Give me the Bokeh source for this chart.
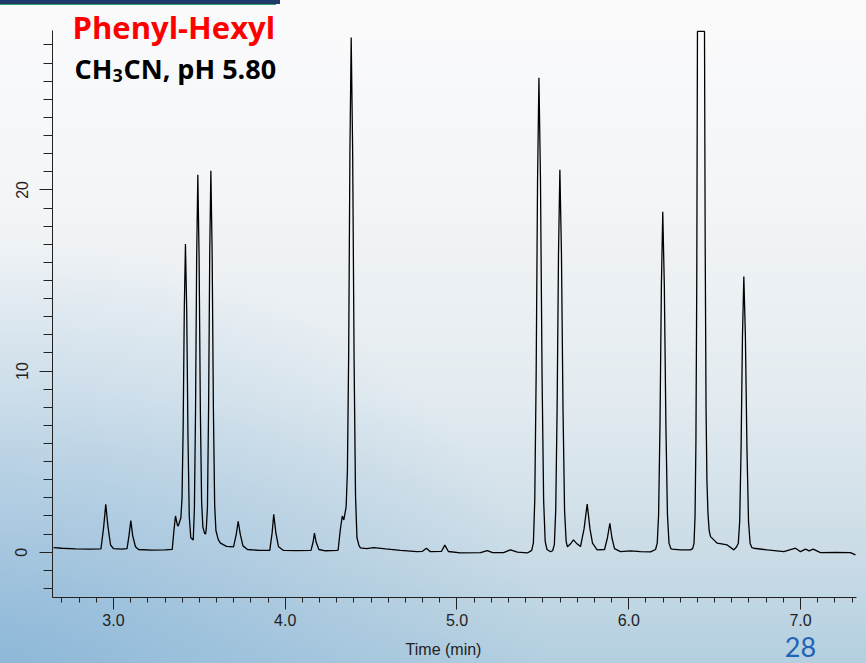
from bokeh.plotting import figure
from bokeh.models import FixedTicker, Label, Range1d
from bokeh.embed import file_html
from bokeh.resources import INLINE

# ---- chromatogram trace (time in min, signal) ----
time_min = [
    2.651, 2.700, 2.780, 2.860, 2.927,
    2.943, 2.955, 2.968, 2.983, 3.000, 3.050, 3.079,
    3.090, 3.101, 3.112, 3.128, 3.146, 3.220, 3.300, 3.342,
    3.352, 3.361, 3.372, 3.377, 3.3924, 3.3991, 3.4057, 3.4124, 3.419,
    3.4264, 3.4337, 3.4411, 3.450, 3.4644, 3.4711, 3.4777, 3.4844, 3.491,
    3.4984, 3.5057, 3.5131, 3.5204, 3.530, 3.536, 3.5404, 3.5471, 3.5537, 3.5604, 3.567,
    3.5744, 3.5817, 3.5891, 3.5964, 3.610, 3.623, 3.658, 3.699,
    3.715, 3.726, 3.738, 3.754, 3.780, 3.850, 3.910,
    3.924, 3.933, 3.945, 3.961, 3.990, 4.070, 4.150,
    4.162, 4.170, 4.180, 4.196, 4.234, 4.300, 4.308,
    4.320, 4.332, 4.341, 4.3546, 4.362, 4.3693, 4.3767, 4.384,
    4.3924, 4.4008, 4.4092, 4.4176, 4.430, 4.438,
    4.473, 4.516, 4.584, 4.671, 4.768, 4.799, 4.822, 4.845, 4.910, 4.929,
    4.950, 5.020, 5.137, 5.176, 5.207, 5.271, 5.311, 5.352, 5.410,
    5.435, 5.4448, 5.4528, 5.4609, 5.469, 5.477,
    5.4861, 5.4952, 5.5043, 5.5134, 5.524, 5.544,
    5.557, 5.5668, 5.5748, 5.5829, 5.591, 5.599,
    5.6081, 5.6172, 5.6263, 5.6354, 5.643, 5.660, 5.678, 5.695, 5.719,
    5.740, 5.758, 5.774, 5.789, 5.816,
    5.859, 5.876, 5.890, 5.902, 5.917, 5.952, 6.010, 6.068, 6.127,
    6.156, 6.1658, 6.1738, 6.1819, 6.190, 6.198,
    6.2071, 6.2162, 6.2253, 6.2344, 6.245, 6.253, 6.301, 6.359,
    6.372, 6.380, 6.386, 6.391, 6.396, 6.400, 6.441, 6.445, 6.450, 6.455,
    6.461, 6.468, 6.476, 6.515, 6.573, 6.612,
    6.628, 6.6378, 6.6458, 6.6539, 6.662, 6.670,
    6.6791, 6.6882, 6.6973, 6.7064, 6.717, 6.728, 6.806, 6.903,
    6.971, 7.000, 7.029, 7.050, 7.074, 7.116, 7.204, 7.291, 7.320,
]
signal = [
    0.25, 0.22, 0.19, 0.17, 0.18,
    1.40, 2.64, 1.40, 0.40, 0.20, 0.17, 0.20,
    0.90, 1.74, 0.90, 0.30, 0.15, 0.12, 0.13, 0.16,
    1.20, 2.00, 1.50, 1.45, 1.90, 3.00, 6.90, 13.5, 17.02,
    13.3, 6.40, 2.00, 0.80, 0.68, 2.40, 7.80, 16.3, 20.83,
    16.3, 7.90, 2.80, 1.40, 1.05, 1.00, 1.30, 2.50, 7.90, 16.5, 21.06,
    16.5, 7.90, 2.60, 1.20, 0.70, 0.50, 0.32, 0.30,
    1.00, 1.71, 1.00, 0.35, 0.15, 0.10, 0.10,
    1.10, 2.09, 1.10, 0.30, 0.10, 0.09, 0.10,
    0.55, 1.05, 0.55, 0.15, 0.08, 0.10, 0.12,
    1.20, 2.00, 1.78, 2.50, 4.50, 10.9, 22.2, 28.41,
    22.2, 10.7, 3.10, 0.80, 0.35, 0.24,
    0.20, 0.25, 0.18, 0.10, 0.03, 0.05, 0.22, 0.03, 0.05, 0.39,
    0.04, -0.04, -0.02, 0.09, -0.02, -0.02, 0.13, 0.00, -0.04,
    0.10, 0.52, 2.90, 9.80, 20.5, 26.19,
    20.5, 9.80, 2.90, 0.60, 0.15, 0.03,
    0.08, 0.42, 2.30, 7.90, 16.5, 21.11,
    16.5, 7.90, 2.30, 0.60, 0.30, 0.45, 0.68, 0.50, 0.31,
    1.30, 2.66, 1.30, 0.50, 0.13,
    0.15, 0.80, 1.60, 0.80, 0.20, 0.03, 0.07, 0.03, 0.02,
    0.15, 0.50, 2.07, 7.05, 14.7, 18.79,
    14.7, 7.05, 2.07, 0.50, 0.20, 0.17, 0.13, 0.13,
    0.20, 0.50, 2.00, 6.00, 15.0, 28.75, 28.75, 17.0, 8.00, 4.00,
    2.20, 1.20, 0.86, 0.50, 0.40, 0.13,
    0.30, 0.50, 1.70, 5.70, 11.9, 15.22,
    11.9, 5.70, 1.70, 0.50, 0.25, 0.22, 0.13, 0.03,
    0.22, 0.03, 0.17, 0.07, 0.17, -0.02, -0.01, -0.02, -0.15,
]

x_major = [3.0, 4.0, 5.0, 6.0, 7.0]
x_labels = ["3.0", "4.0", "5.0", "6.0", "7.0"]
x_minor = [round(2.7 + 0.1 * i, 1) for i in range(47)]
x_axis_span = (2.645, 7.326)
y_major = [0, 10, 20]
y_labels = ["0", "10", "20"]
y_minor = list(range(-2, 29))
y_axis_span = (-2.5, 28.8)

title_text = "Phenyl-Hexyl"
sub_parts = ["CH", "3", "CN, pH 5.80"]
x_title = "Time (min)"
page_no = "28"

W, H = 866, 663
# frame covers the whole canvas; axes are pinned inside it
p = figure(width=W, height=H, output_backend="svg", toolbar_location=None,
           x_range=Range1d(2.3422, 7.3842), y_range=Range1d(-6.143, 30.456),
           min_border=0, min_border_left=0, min_border_right=0,
           min_border_top=0, min_border_bottom=0)

p.line(time_min, signal, line_color="black", line_width=1.3)

p.styles = {
    "background": "linear-gradient(#1f3a6b,#1f3a6b) 0 0 / 280px 4px no-repeat, "
                  "linear-gradient(#2f9a6a,#2f9a6a) 0 4px / 276px 1px no-repeat, "
                  "radial-gradient(ellipse at 0% 100%, rgba(110,165,210,0.55), rgba(110,165,210,0) 45%), "
                  "linear-gradient(to bottom, #fbfbfc 0%, #f3f5f7 30%, #e3ebf0 60%, #c9dbe6 85%, #b3cfe0 100%)"
}
p.background_fill_alpha = 0
p.border_fill_alpha = 0
p.outline_line_color = None
p.xgrid.visible = False
p.ygrid.visible = False

p.xaxis.ticker = FixedTicker(ticks=x_major, minor_ticks=x_minor)
p.xaxis.major_label_overrides = dict(zip(x_major, x_labels))
p.xaxis.fixed_location = y_axis_span[0]
p.xaxis.bounds = x_axis_span
p.yaxis.ticker = FixedTicker(ticks=y_major, minor_ticks=y_minor)
p.yaxis.major_label_overrides = dict(zip(y_major, y_labels))
p.yaxis.major_label_orientation = "vertical"
p.yaxis.fixed_location = x_axis_span[0]
p.yaxis.bounds = y_axis_span

for ax in (p.xaxis[0], p.yaxis[0]):
    ax.axis_line_color = "#222222"
    ax.major_tick_line_color = "#222222"
    ax.minor_tick_line_color = "#222222"
    ax.major_tick_in = 0
    ax.minor_tick_in = 0
    ax.major_label_text_font = "Liberation Sans"
    ax.major_label_text_font_size = "16px"
    ax.major_label_text_color = "#222222"

p.xaxis.major_tick_out = 12
p.xaxis.minor_tick_out = 5
p.xaxis.major_label_standoff = 4
p.yaxis.major_tick_out = 13
p.yaxis.minor_tick_out = 9
p.yaxis.major_label_standoff = 12


def lab(text, cx, cy, **kw):
    p.add_layout(Label(x=cx, y=H - cy, x_units="screen", y_units="screen",
                       text=text, **kw))


bold = dict(text_font="Open Sans", text_font_style="bold", text_baseline="middle")
lab(title_text, 72, 26, text_font_size="31px", text_color="#ff0000", **bold)
lab(sub_parts[0], 74, 68, text_font_size="27px", text_color="black", **bold)
lab(sub_parts[1], 112, 75, text_font_size="18px", text_color="black", **bold)
lab(sub_parts[2], 123, 68, text_font_size="27px", text_color="black", **bold)
lab(x_title, 443, 649, text_font="Liberation Sans", text_font_size="16px",
    text_color="#222222", text_align="center", text_baseline="middle")
lab(page_no, 800, 646, text_font="Lato", text_font_size="27px",
    text_color="#1f64b4", text_align="center", text_baseline="middle")

open("out.html", "w").write(file_html(p, INLINE))
